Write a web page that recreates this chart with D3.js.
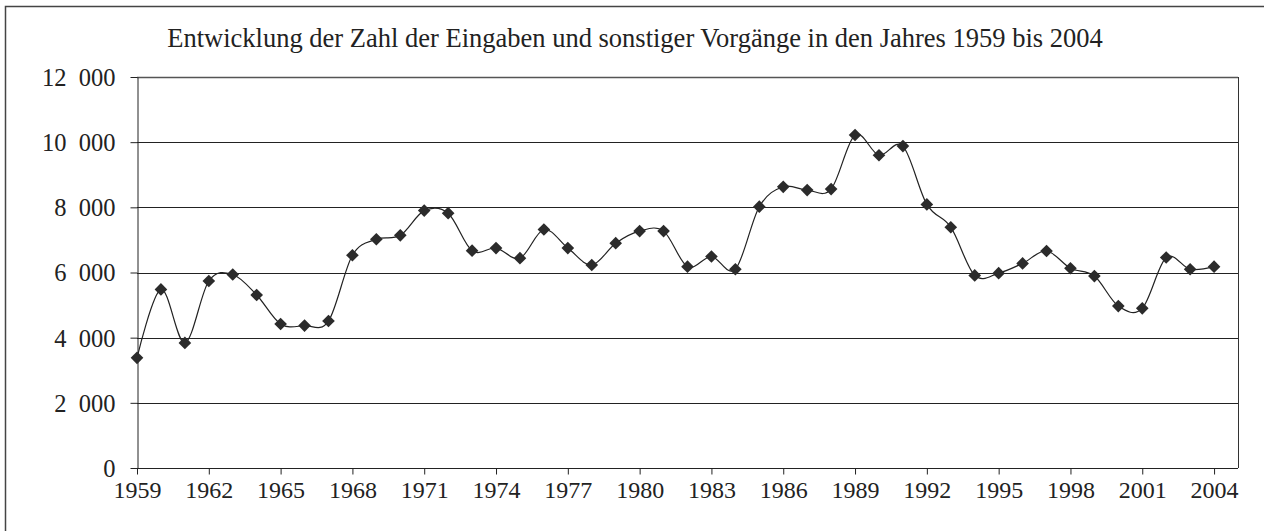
<!DOCTYPE html>
<html>
<head>
<meta charset="utf-8">
<script src="https://d3js.org/d3.v7.min.js"></script>
<style>
  body { margin: 0; background: #fff; }
  svg text { font-family: "Liberation Serif", "Times New Roman", serif; fill: #222; }
</style>
</head>
<body>
<div id="chart"></div>
<script>
// data (Eingaben und sonstige Vorgänge per year)
var years = d3.range(1959, 2005);
var counts = [
  3380, 5480, 3840, 5740, 5940, 5310, 4420, 4370, 4510, 6530,
  7020, 7140, 7900, 7820, 6670, 6750, 6440, 7320, 6750, 6230,
  6900, 7270, 7270, 6180, 6490, 6100, 8020, 8630, 8530, 8560,
  10220, 9600, 9880, 8090, 7390, 5910, 5980, 6280, 6660, 6130,
  5890, 4970, 4900, 6460, 6100, 6180
];
var yTicks = [0, 2000, 4000, 6000, 8000, 10000, 12000];
var xTicks = d3.range(1959, 2005, 3);
var title = "Entwicklung der Zahl der Eingaben und sonstiger Vorgänge in den Jahres 1959 bis 2004";

var W = 1264, H = 531;
var mLeft = 137, mRight = 1238, mTop = 77, mBottom = 468;
var serif = "'Liberation Serif', 'Times New Roman', serif";

var svg = d3.select("#chart").append("svg")
  .attr("width", W)
  .attr("height", H);

// outer frame
svg.append("rect")
  .attr("x", 5.5).attr("y", 6.5)
  .attr("width", 1300).attr("height", 600)
  .attr("fill", "none")
  .attr("stroke", "#444")
  .attr("stroke-width", 1.5);

var x = d3.scaleLinear().domain([1959, 2005]).range([mLeft, mRight]);
var y = d3.scaleLinear().domain([0, 12000]).range([mBottom, mTop]);

// gridlines
svg.append("g").selectAll("line")
  .data(yTicks.slice(1))
  .enter().append("line")
  .attr("x1", mLeft).attr("x2", mRight)
  .attr("y1", function(d) { return Math.round(y(d)) + 0.5; })
  .attr("y2", function(d) { return Math.round(y(d)) + 0.5; })
  .attr("stroke", function(d) { return d == 12000 ? "#555" : "#222"; })
  .attr("stroke-width", function(d) { return d == 12000 ? 1.5 : 1; });

// right border of plot area
svg.append("line")
  .attr("x1", mRight + 0.5).attr("x2", mRight + 0.5)
  .attr("y1", mTop).attr("y2", mBottom)
  .attr("stroke", "#333");

var fmt = function(d) { return d3.format(",")(d).replace(",", "\u2007"); };

var yAxis = svg.append("g")
  .attr("transform", "translate(" + (mLeft + 0.5) + ",0)")
  .attr("font-family", serif)
  .call(d3.axisLeft(y).tickValues(yTicks).tickSize(7).tickSizeOuter(0).tickPadding(15).tickFormat(fmt));
yAxis.selectAll("text")
  .style("font-family", serif)
  .style("font-size", "24.5px")
  .attr("dy", "0.34em");

var xAxis = svg.append("g")
  .attr("transform", "translate(0," + (mBottom + 0.5) + ")")
  .attr("font-family", serif)
  .call(d3.axisBottom(x).tickValues(xTicks).tickSize(6).tickSizeOuter(0).tickPadding(6).tickFormat(d3.format("d")));
xAxis.selectAll("text")
  .style("font-family", serif)
  .style("font-size", "24px");
xAxis.select(".domain").attr("d", "M" + mLeft + ",0H" + mRight);

svg.selectAll(".domain, .tick line").attr("stroke", "#222");

// series
var series = years.map(function(d, i) { return [d, counts[i]]; });

var line = d3.line()
  .x(function(d) { return x(d[0]); })
  .y(function(d) { return y(d[1]); })
  .curve(d3.curveCardinal.tension(0));

svg.append("path")
  .datum(series)
  .attr("d", line)
  .attr("fill", "none")
  .attr("stroke", "#222")
  .attr("stroke-width", 1.2);

svg.append("g").selectAll("path")
  .data(series)
  .enter().append("path")
  .attr("d", d3.symbol(d3.symbolSquare, 80))
  .attr("transform", function(d) { return "translate(" + x(d[0]) + "," + y(d[1]) + ") rotate(45)"; })
  .attr("fill", "#2b2b2b");

svg.append("text")
  .attr("x", 635)
  .attr("y", 47)
  .attr("text-anchor", "middle")
  .style("font-family", serif)
  .style("font-size", "26.5px")
  .text(title);
</script>
</body>
</html>
